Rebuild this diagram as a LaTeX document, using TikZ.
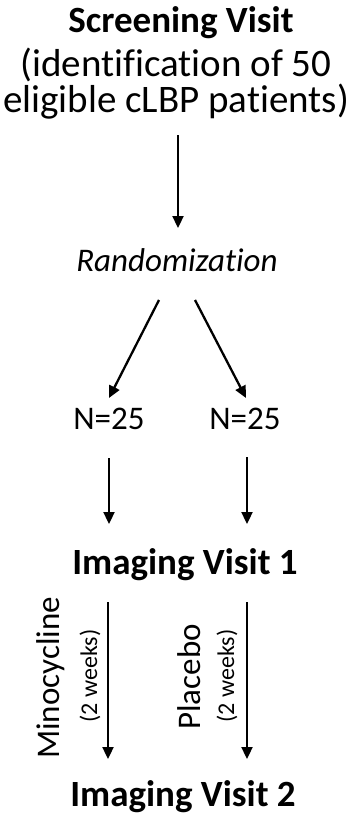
\documentclass[tikz,border=0pt]{standalone}
\usepackage{fontspec}
\setmainfont{Carlito}[Ligatures={NoCommon,NoDiscretionary,NoContextual}]
\usetikzlibrary{arrows.meta}
\begin{document}
\begin{tikzpicture}[x=1pt,y=-1pt,
  arr/.style={line width=2.3pt,-{Triangle[length=12pt,width=11pt]}},
  every node/.style={inner sep=0pt,outer sep=0pt},
  bigbold/.style={anchor=base,font=\fontsize{37}{44}\selectfont\bfseries},
  bigreg/.style={anchor=base,font=\fontsize{39}{44}\selectfont},
  midreg/.style={anchor=base,font=\fontsize{33}{40}\selectfont},
  midit/.style={anchor=base,font=\fontsize{33}{40}\selectfont\itshape},
  rotlab/.style={rotate=90,font=\fontsize{33}{40}\selectfont},
  rotsmall/.style={rotate=90,font=\fontsize{24}{30}\selectfont}]
\useasboundingbox (0,0) rectangle (353,816);
\node[bigbold] (scr) at (181,33) {Screening Visit};
\node[bigreg] (id1) at (176,76) {(identification of 50};
\node[bigreg] (id2) at (176,112) {eligible cLBP patients)};
\node[midit] (rand) at (177,271) {Randomization};
\node[midreg] (n1) at (109,429) {N=25};
\node[midreg] (n2) at (245,429) {N=25};
\node[bigbold] (iv1) at (185,574) {Imaging Visit 1};
\node[bigbold] (iv2) at (183,806) {Imaging Visit 2};
\node[rotlab] (mino) at (51,678) {Minocycline};
\node[rotsmall] (w1) at (90,676) {(2 weeks)};
\node[rotlab] (plac) at (189,677) {Placebo};
\node[rotsmall] (w2) at (227,676) {(2 weeks)};
% arrow end points
\coordinate (a1s) at (178,135); \coordinate (a1e) at (178,228);
\coordinate (a2s) at (159,300); \coordinate (a2e) at (109,398);
\coordinate (a3s) at (195,300); \coordinate (a3e) at (246,398);
\coordinate (a4s) at (109,458); \coordinate (a4e) at (109,524);
\coordinate (a5s) at (247,457); \coordinate (a5e) at (247,524);
\coordinate (a6s) at (108,602); \coordinate (a6e) at (108,759);
\coordinate (a7s) at (247,602); \coordinate (a7e) at (247,759);
\draw[arr] (a1s) -- (a1e);
\draw[arr] (a2s) -- (a2e);
\draw[arr] (a3s) -- (a3e);
\draw[arr] (a4s) -- (a4e);
\draw[arr] (a5s) -- (a5e);
\draw[arr] (a6s) -- (a6e);
\draw[arr] (a7s) -- (a7e);
\end{tikzpicture}
\end{document}
